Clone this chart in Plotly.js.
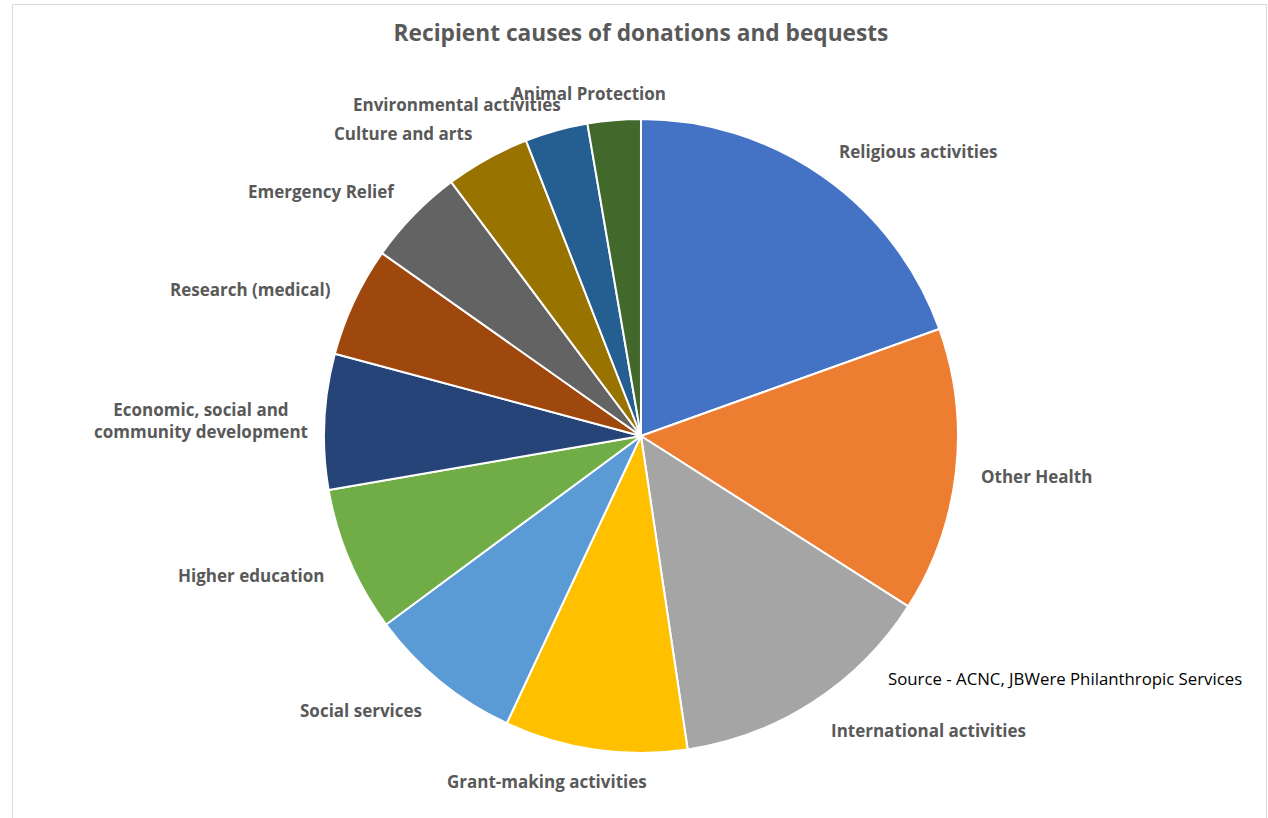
<!DOCTYPE html>
<html>
<head>
<meta charset="utf-8">
<script src="https://cdn.plot.ly/plotly-3.0.1.min.js"></script>
<style>
  html, body { margin: 0; padding: 0; background: #ffffff; }
  #chart { width: 1268px; height: 818px; }
</style>
</head>
<body>
<div id="chart"></div>
<script>
// ---- data ----
const categories = [
  "Religious activities",
  "Other Health",
  "International activities",
  "Grant-making activities",
  "Social services",
  "Higher education",
  "Economic, social and community development",
  "Research (medical)",
  "Emergency Relief",
  "Culture and arts",
  "Environmental activities",
  "Animal Protection"
];
const shares = [19.5, 14.5, 13.6, 9.3, 7.9, 7.4, 6.9, 5.6, 5.0, 4.3, 3.2, 2.7];
const labelTexts = [
  "Religious activities",
  "Other Health",
  "International activities",
  "Grant-making activities",
  "Social services",
  "Higher education",
  "Economic, social and<br>community development",
  "Research (medical)",
  "Emergency Relief",
  "Culture and arts",
  "Environmental activities",
  "Animal Protection"
];
const chartTitle = "Recipient causes of donations and bequests";
const sourceNote = "Source - ACNC, JBWere Philanthropic Services";

// ---- styles / positions ----
const sliceColors = ["#4472C4", "#ED7D31", "#A5A5A5", "#FFC000", "#5B9BD5", "#70AD47",
                     "#264478", "#9E480E", "#636363", "#997300", "#255E91", "#43682B"];
const labelPx = [
  [918, 152], [1036, 476], [928, 730], [547, 781], [361, 710], [251, 575],
  [201, 420], [250, 289], [321, 191], [403, 133], [457, 104], [589, 93]
];
const W = 1268, H = 818;
const FONT = "'Open Sans', sans-serif";

const annotations = labelTexts.map((t, i) => ({
  text: "<b>" + t + "</b>",
  xref: "paper", yref: "paper",
  x: labelPx[i][0] / W, y: 1 - labelPx[i][1] / H,
  xanchor: "center", yanchor: "middle",
  showarrow: false,
  font: { family: FONT, size: 17, color: "#595959" }
}));
annotations.push({
  text: sourceNote,
  xref: "paper", yref: "paper",
  x: 1065 / W, y: 1 - 678 / H,
  xanchor: "center", yanchor: "middle",
  showarrow: false,
  font: { family: FONT, size: 16.8, color: "#000000" }
});

const trace = {
  type: "pie",
  labels: categories,
  values: shares,
  sort: false,
  direction: "clockwise",
  rotation: 0,
  textinfo: "none",
  hoverinfo: "label+percent",
  marker: { colors: sliceColors, line: { color: "#ffffff", width: 2 } },
  domain: { x: [0.2055, 0.8055], y: [0.0795, 0.8545] },
  showlegend: false
};

const layout = {
  width: W, height: H,
  margin: { l: 0, r: 0, t: 0, b: 0 },
  paper_bgcolor: "#ffffff",
  plot_bgcolor: "#ffffff",
  showlegend: false,
  title: {
    text: "<b>" + chartTitle + "</b>",
    x: 641 / W, xanchor: "center",
    y: 1 - 33 / H, yanchor: "middle",
    font: { family: FONT, size: 22.7, color: "#595959" }
  },
  annotations: annotations,
  shapes: [{
    type: "rect", xref: "paper", yref: "paper",
    x0: 12.5 / W, x1: 1266.5 / W, y0: -0.05, y1: 1 - 4.5 / H,
    line: { color: "#d9d9d9", width: 1 }, fillcolor: "rgba(0,0,0,0)"
  }]
};

Plotly.newPlot("chart", [trace], layout, { displayModeBar: false, staticPlot: true });
</script>
</body>
</html>
